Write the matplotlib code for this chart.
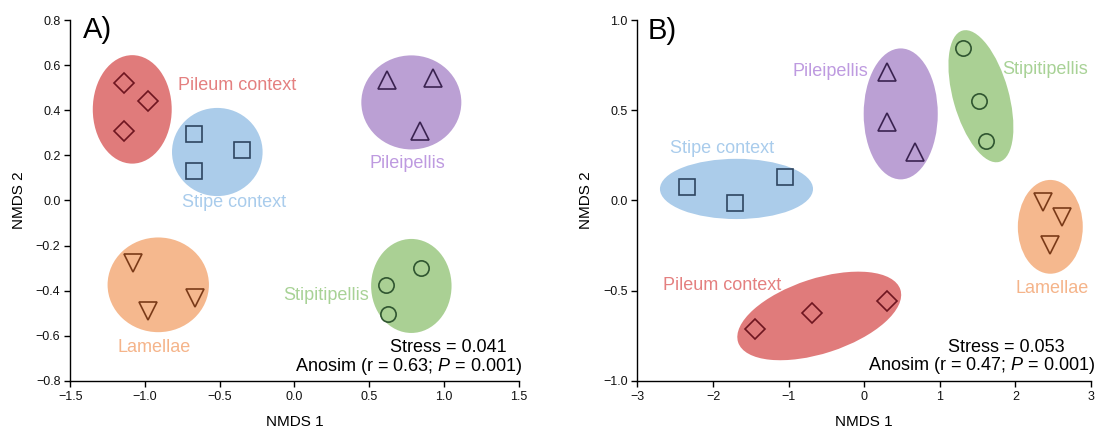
import matplotlib
matplotlib.use("Agg")
import matplotlib.pyplot as plt
from matplotlib.patches import Ellipse
from matplotlib.transforms import Affine2D

plt.rcParams['font.family'] = ['Liberation Sans', 'DejaVu Sans']
plt.rcParams['mathtext.fontset'] = 'custom'
plt.rcParams['mathtext.it'] = 'Liberation Sans:italic'
plt.rcParams['mathtext.rm'] = 'Liberation Sans'

groups = ["Pileum context", "Stipe context", "Pileipellis", "Stipitipellis", "Lamellae"]
markers = ["D", "s", "^", "o", "v"]
fill_colors = ["#E07B7B", "#ABCCEA", "#BBA0D4", "#AAD094", "#F5B88E"]
text_colors = ["#E48080", "#A9CCEC", "#BE9AE0", "#A8D296", "#F5B48A"]
edge_colors = ["#6E1620", "#2E4560", "#3A2350", "#2F5530", "#7A3A18"]
marker_sizes = [10, 12, 12.5, 11, 12.5]

# Panel A points
A_x = {
    "Pileum context": [-1.14, -0.98, -1.14],
    "Stipe context": [-0.67, -0.67, -0.35],
    "Pileipellis": [0.62, 0.925, 0.84],
    "Stipitipellis": [0.847, 0.613, 0.629],
    "Lamellae": [-1.082, -0.977, -0.667],
}
A_y = {
    "Pileum context": [0.52, 0.44, 0.309],
    "Stipe context": [0.294, 0.13, 0.224],
    "Pileipellis": [0.535, 0.543, 0.309],
    "Stipitipellis": [-0.301, -0.373, -0.505],
    "Lamellae": [-0.279, -0.49, -0.431],
}
# Panel A ellipses: center x, center y, width (x units), height (y units), angle
A_ell_cx = [-1.085, -0.516, 0.782, 0.782, -0.911]
A_ell_cy = [0.404, 0.215, 0.435, -0.379, -0.374]
A_ell_w = [0.528, 0.606, 0.669, 0.538, 0.678]
A_ell_h = [0.481, 0.391, 0.417, 0.417, 0.420]
A_ell_ang = [0, 0, 0, 0, 0]
A_lab_x = [-0.385, -0.404, 0.754, 0.212, -0.941]
A_lab_y = [0.51, -0.011, 0.165, -0.42, -0.651]

# Panel B points
B_x = {
    "Pileum context": [-1.449, -0.692, 0.298],
    "Stipe context": [-2.34, -1.704, -1.054],
    "Pileipellis": [0.307, 0.307, 0.669],
    "Stipitipellis": [1.306, 1.515, 1.608],
    "Lamellae": [2.365, 2.615, 2.453],
}
B_y = {
    "Pileum context": [-0.712, -0.623, -0.558],
    "Stipe context": [0.073, -0.012, 0.129],
    "Pileipellis": [0.714, 0.435, 0.268],
    "Stipitipellis": [0.848, 0.554, 0.328],
    "Lamellae": [-0.006, -0.09, -0.244],
}
B_ell_cx = [-0.595, -1.69, 0.483, 1.544, 2.462]
B_ell_cy = [-0.64, 0.064, 0.48, 0.578, -0.146]
B_ell_w = [2.257, 2.025, 0.98, 1.804, 0.859]
B_ell_h = [0.415, 0.334, 0.726, 0.308, 0.520]
B_ell_ang = [18, 0, 0, 105.7, 0]
B_lab_x = [-1.876, -1.885, -0.445, 2.397, 2.49]
B_lab_y = [-0.471, 0.287, 0.714, 0.727, -0.489]

A_xlim, A_ylim = (-1.5, 1.5), (-0.8, 0.8)
B_xlim, B_ylim = (-3, 3), (-1.0, 1.0)
A_xticks = [-1.5, -1.0, -0.5, 0.0, 0.5, 1.0, 1.5]
A_yticks = [-0.8, -0.6, -0.4, -0.2, 0.0, 0.2, 0.4, 0.6, 0.8]
B_xticks = [-3, -2, -1, 0, 1, 2, 3]
B_yticks = [-1.0, -0.5, 0.0, 0.5, 1.0]

fig = plt.figure(figsize=(10.97, 4.34), dpi=100)
axA = fig.add_axes([0.064, 0.1224, 0.4088, 0.8313])
axB = fig.add_axes([0.5811, 0.1224, 0.4134, 0.8313])


def draw_panel(ax, xs, ys, ecx, ecy, ew, eh, eang, lx, ly, xlim, ylim, xticks, yticks,
               xfmt, yfmt, letter, letter_pos, stress, anosim_r, stress_pos, anosim_pos):
    ax.set_xlim(*xlim)
    ax.set_ylim(*ylim)
    fig.canvas.draw()
    bb = ax.get_window_extent()
    k = (bb.height / (ylim[1] - ylim[0])) / (bb.width / (xlim[1] - xlim[0]))
    vis = Affine2D().scale(1, 1 / k) + ax.transData
    for i, g in enumerate(groups):
        e = Ellipse((ecx[i], ecy[i] * k), ew[i], eh[i] * k, angle=eang[i],
                    facecolor=fill_colors[i], edgecolor='none', transform=vis, zorder=1)
        ax.add_patch(e)
        ax.plot(xs[g], ys[g], linestyle='none', marker=markers[i], markersize=marker_sizes[i],
                markerfacecolor='none', markeredgecolor=edge_colors[i], markeredgewidth=1.2,
                zorder=3)
        ax.text(lx[i], ly[i], g, color=text_colors[i], fontsize=13, ha='center',
                va='center', zorder=4)
    ax.set_xticks(xticks)
    ax.set_yticks(yticks)
    ax.set_xticklabels([xfmt(v) for v in xticks])
    ax.set_yticklabels([yfmt(v) for v in yticks])
    for s in ['top', 'right']:
        ax.spines[s].set_visible(False)
    for s in ['left', 'bottom']:
        ax.spines[s].set_linewidth(1.0)
    ax.tick_params(direction='out', length=4, width=1.0, labelsize=9, pad=3,
                   labelcolor='#111111')
    ax.set_xlabel('NMDS 1', fontsize=11, labelpad=9)
    ax.set_ylabel('NMDS 2', fontsize=11, labelpad=7)
    ax.text(letter_pos[0], letter_pos[1], letter, fontsize=21, ha='left', va='center')
    ax.text(stress_pos[0], stress_pos[1], 'Stress = ' + stress, fontsize=13, ha='right',
            va='center')
    ax.text(anosim_pos[0], anosim_pos[1],
            'Anosim (r = ' + anosim_r + r'; $\mathit{P}$ = 0.001)', fontsize=13,
            ha='right', va='center')


def fmt1(v):
    return ('%.1f' % v).replace('-', '\u2212')


def fmt0(v):
    return ('%d' % v).replace('-', '\u2212')


draw_panel(axA, A_x, A_y, A_ell_cx, A_ell_cy, A_ell_w, A_ell_h, A_ell_ang, A_lab_x, A_lab_y,
           A_xlim, A_ylim, A_xticks, A_yticks, fmt1, fmt1, 'A)', (-1.415, 0.755),
           '0.041', '0.63', (1.42, -0.651), (1.52, -0.737))
draw_panel(axB, B_x, B_y, B_ell_cx, B_ell_cy, B_ell_w, B_ell_h, B_ell_ang, B_lab_x, B_lab_y,
           B_xlim, B_ylim, B_xticks, B_yticks, fmt0, fmt1, 'B)', (-2.86, 0.94),
           '0.053', '0.47', (2.65, -0.814), (3.06, -0.916))

fig.savefig('out.png', dpi=100)
